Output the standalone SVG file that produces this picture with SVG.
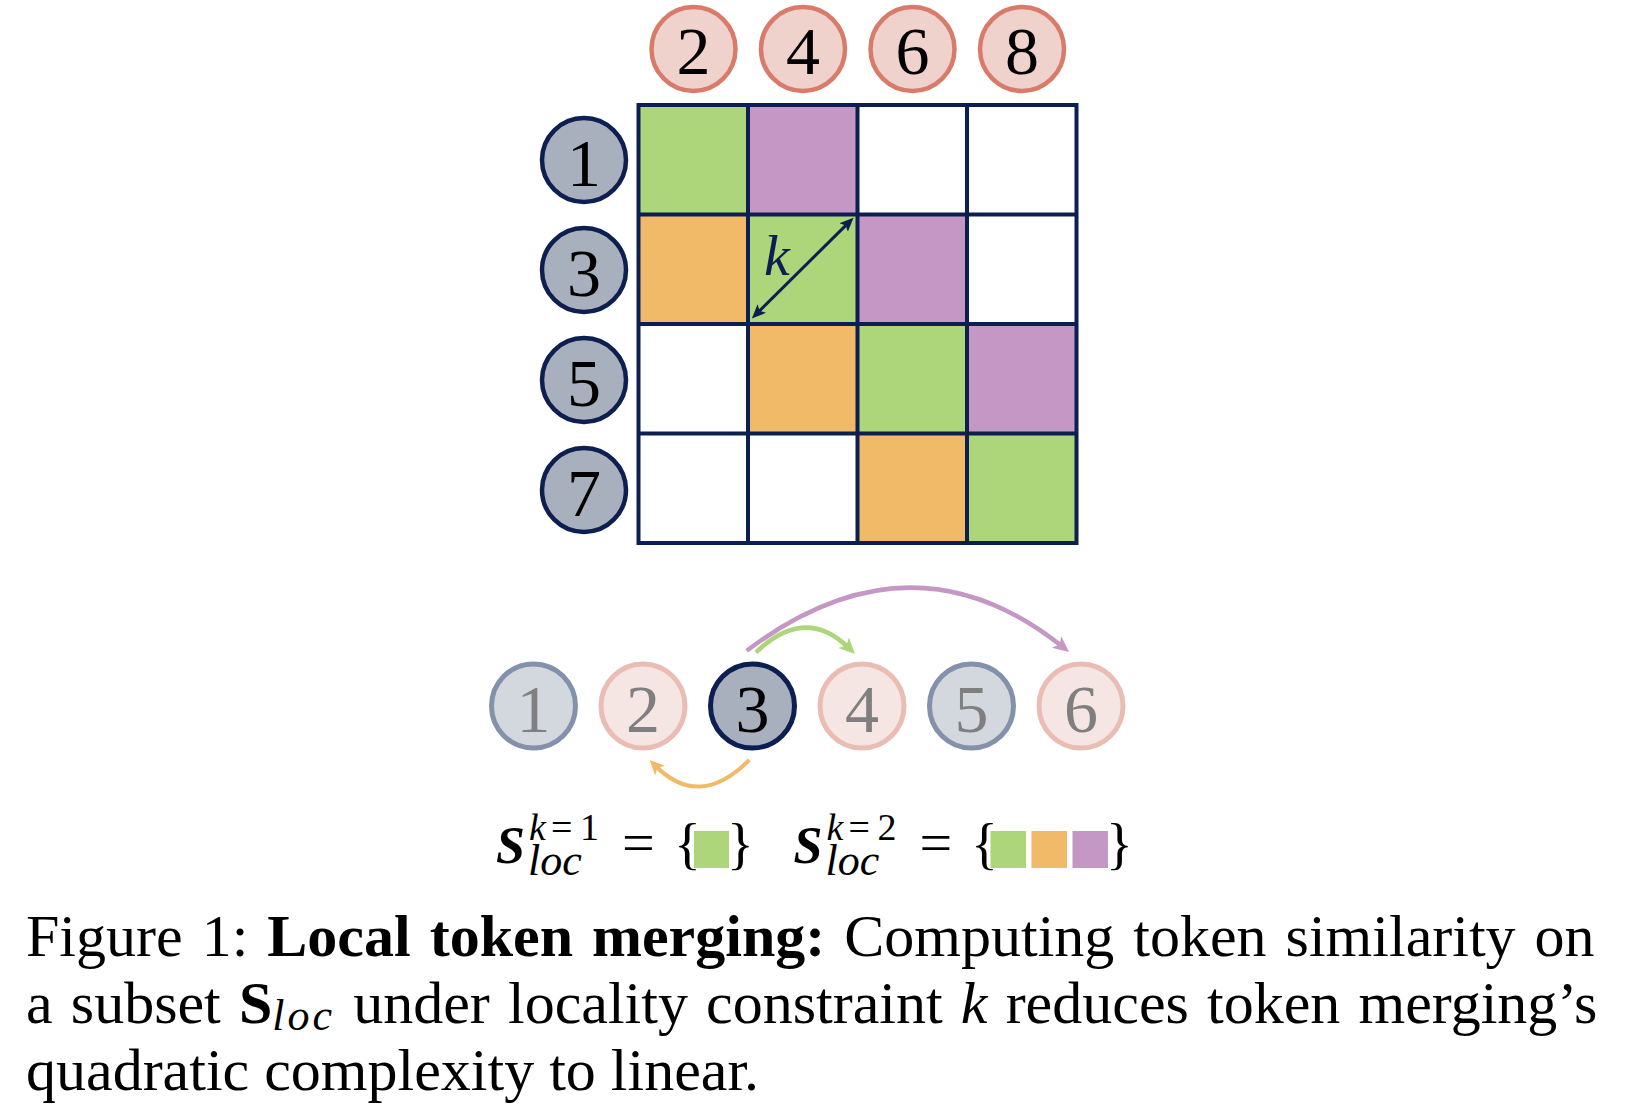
<svg xmlns="http://www.w3.org/2000/svg" width="1650" height="1120" viewBox="0 0 1650 1120">
<style>
  .serif { font-family: "Liberation Serif", "Times New Roman", serif; }
  .num { font-family: "Liberation Serif", "Times New Roman", serif; font-size: 68px; text-anchor: middle; }
  .topc { fill: #F0D2CD; stroke: #D97B6B; stroke-width: 4.5; }
  .leftc { fill: #A8AFBD; stroke: #0D1E50; stroke-width: 4.5; }
  .greyc { fill: #D3D8DF; stroke: #8391AA; stroke-width: 5; }
  .pinkc { fill: #F6E6E3; stroke: #EABDB4; stroke-width: 5; }
  .darkc { fill: #A8AFBD; stroke: #0D1E50; stroke-width: 5; }
  .g { fill: #ADD57A; }
  .p { fill: #C597C4; }
  .o { fill: #F0BA69; }
  .w { fill: #FFFFFF; }
  .gridline { stroke: #0D1E50; stroke-width: 4; fill: none; }
  .cap { font-family: "Liberation Serif", "Times New Roman", serif; font-size: 60px; fill: #000; }
</style>
<defs>
  <marker id="ahP" markerUnits="userSpaceOnUse" markerWidth="20" markerHeight="20" refX="8" refY="7.5" orient="auto">
    <path d="M0,0 L16,7.5 L0,15 L4,7.5 z" fill="#C597C4"/>
  </marker>
  <marker id="ahG" markerUnits="userSpaceOnUse" markerWidth="20" markerHeight="20" refX="8" refY="7.5" orient="auto">
    <path d="M0,0 L16,7.5 L0,15 L4,7.5 z" fill="#ADD57A"/>
  </marker>
  <marker id="ahO" markerUnits="userSpaceOnUse" markerWidth="20" markerHeight="20" refX="8" refY="7" orient="auto">
    <path d="M0,0 L15,7 L0,14 L4,7 z" fill="#F0BA69"/>
  </marker>
  <marker id="ahK" markerUnits="userSpaceOnUse" markerWidth="20" markerHeight="20" refX="7" refY="6" orient="auto-start-reverse">
    <path d="M0,0 L14,6 L0,12 L3,6 z" fill="#0D1E50"/>
  </marker>
</defs>

<rect x="0" y="0" width="1650" height="1120" fill="#FFFFFF"/>

<!-- Matrix -->
<g id="matrix">
  <rect class="g" x="638.5" y="105" width="109.5" height="109.5"/>
  <rect class="p" x="748" y="105" width="109.5" height="109.5"/>
  <rect class="w" x="857.5" y="105" width="109.5" height="109.5"/>
  <rect class="w" x="967" y="105" width="109.5" height="109.5"/>

  <rect class="o" x="638.5" y="214.5" width="109.5" height="109.5"/>
  <rect class="g" x="748" y="214.5" width="109.5" height="109.5"/>
  <rect class="p" x="857.5" y="214.5" width="109.5" height="109.5"/>
  <rect class="w" x="967" y="214.5" width="109.5" height="109.5"/>

  <rect class="w" x="638.5" y="324" width="109.5" height="109.5"/>
  <rect class="o" x="748" y="324" width="109.5" height="109.5"/>
  <rect class="g" x="857.5" y="324" width="109.5" height="109.5"/>
  <rect class="p" x="967" y="324" width="109.5" height="109.5"/>

  <rect class="w" x="638.5" y="433.5" width="109.5" height="109.5"/>
  <rect class="w" x="748" y="433.5" width="109.5" height="109.5"/>
  <rect class="o" x="857.5" y="433.5" width="109.5" height="109.5"/>
  <rect class="g" x="967" y="433.5" width="109.5" height="109.5"/>

  <rect class="gridline" x="638.5" y="105" width="438" height="438"/>
  <path class="gridline" d="M748,105 V543 M857.5,105 V543 M967,105 V543 M638.5,214.5 H1076.5 M638.5,324 H1076.5 M638.5,433.5 H1076.5"/>
  <text class="serif" x="764" y="275" font-size="58" font-style="italic" fill="#0D1E50">k</text>
</g>

<!-- Column tokens -->
<g id="col2"><circle class="topc" cx="693.5" cy="49" r="42"/><text class="num" x="693.5" y="74">2</text></g>
<g id="col4"><circle class="topc" cx="803" cy="49" r="42"/><text class="num" x="803" y="74">4</text></g>
<g id="col6"><circle class="topc" cx="912.5" cy="49" r="42"/><text class="num" x="912.5" y="74">6</text></g>
<g id="col8"><circle class="topc" cx="1022" cy="49" r="42"/><text class="num" x="1022" y="74">8</text></g>

<!-- Row tokens -->
<g id="row1"><circle class="leftc" cx="584" cy="160" r="42"/><text class="num" x="584" y="186">1</text></g>
<g id="row3"><circle class="leftc" cx="584" cy="270" r="42"/><text class="num" x="584" y="296">3</text></g>
<g id="row5"><circle class="leftc" cx="584" cy="380" r="42"/><text class="num" x="584" y="406">5</text></g>
<g id="row7"><circle class="leftc" cx="584" cy="490" r="42"/><text class="num" x="584" y="516">7</text></g>

<!-- Sequence tokens -->
<g id="tok1"><circle class="greyc" cx="533.5" cy="706" r="42"/><text class="num" x="533.5" y="732" fill="#7F7F7F">1</text></g>
<g id="tok2"><circle class="pinkc" cx="643" cy="706" r="42"/><text class="num" x="643" y="732" fill="#7F7F7F">2</text></g>
<g id="tok3"><circle class="darkc" cx="752.5" cy="706" r="42"/><text class="num" x="752.5" y="732" fill="#000000">3</text></g>
<g id="tok4"><circle class="pinkc" cx="862" cy="706" r="42"/><text class="num" x="862" y="732" fill="#7F7F7F">4</text></g>
<g id="tok5"><circle class="greyc" cx="971.5" cy="706" r="42"/><text class="num" x="971.5" y="732" fill="#7F7F7F">5</text></g>
<g id="tok6"><circle class="pinkc" cx="1081" cy="706" r="42"/><text class="num" x="1081" y="732" fill="#7F7F7F">6</text></g>

<!-- Connectors -->
<g id="connectors" fill="none">
  <path d="M756.8,313.5 L848.6,222.6" stroke="#0D1E50" stroke-width="3" marker-start="url(#ahK)" marker-end="url(#ahK)"/>
  <path d="M746.7,650.7 Q912,526.5 1062.8,647" stroke="#C597C4" stroke-width="4.5" marker-end="url(#ahP)"/>
  <path d="M756,652.3 Q805.5,605 849.3,648.4" stroke="#ADD57A" stroke-width="4.5" marker-end="url(#ahG)"/>
  <path d="M749.3,760 Q699,810.5 654.6,765" stroke="#F0BA69" stroke-width="4" marker-end="url(#ahO)"/>
</g>

<!-- Formula k=1 -->
<g id="formula1" class="serif" fill="#000">
  <text x="496" y="863" font-size="52" font-weight="bold" font-style="italic">S<tspan x="529" y="840" font-size="38" font-weight="normal">k</tspan><tspan x="551" y="840" font-size="38" font-weight="normal" font-style="normal">=</tspan><tspan x="580" y="840" font-size="38" font-weight="normal" font-style="normal">1</tspan><tspan x="528" y="875" font-size="44" font-weight="normal">loc</tspan></text>
  <text x="622" y="862" font-size="58">=</text>
  <text x="674" y="863" font-size="56">{</text>
  <rect class="g" x="694" y="831" width="35" height="37"/>
  <text x="727" y="863" font-size="56">}</text>
</g>

<!-- Formula k=2 -->
<g id="formula2" class="serif" fill="#000">
  <text x="793.5" y="863" font-size="52" font-weight="bold" font-style="italic">S<tspan x="826.5" y="840" font-size="38" font-weight="normal">k</tspan><tspan x="848.5" y="840" font-size="38" font-weight="normal" font-style="normal">=</tspan><tspan x="877.5" y="840" font-size="38" font-weight="normal" font-style="normal">2</tspan><tspan x="825.5" y="875" font-size="44" font-weight="normal">loc</tspan></text>
  <text x="919.5" y="862" font-size="58">=</text>
  <text x="971" y="863" font-size="56">{</text>
  <rect class="g" x="990.5" y="831" width="35.5" height="37"/>
  <rect class="o" x="1031.5" y="831" width="35.5" height="37"/>
  <rect class="p" x="1072.5" y="831" width="35.5" height="37"/>
  <text x="1106" y="863" font-size="56">}</text>
</g>

<!-- Caption -->
<g id="caption">
  <text class="cap" x="26" y="956" word-spacing="4">Figure 1: <tspan font-weight="bold">Local token merging:</tspan> Computing token similarity on</text>
  <text class="cap" x="26" y="1023" word-spacing="3.15">a subset <tspan font-weight="bold">S</tspan><tspan font-style="italic" font-size="44" letter-spacing="3" dy="7">loc</tspan><tspan dy="-7"> under locality constraint </tspan><tspan font-style="italic">k</tspan> reduces token merging’s</text>
  <text class="cap" x="26" y="1090">quadratic complexity to linear.</text>
</g>
</svg>
